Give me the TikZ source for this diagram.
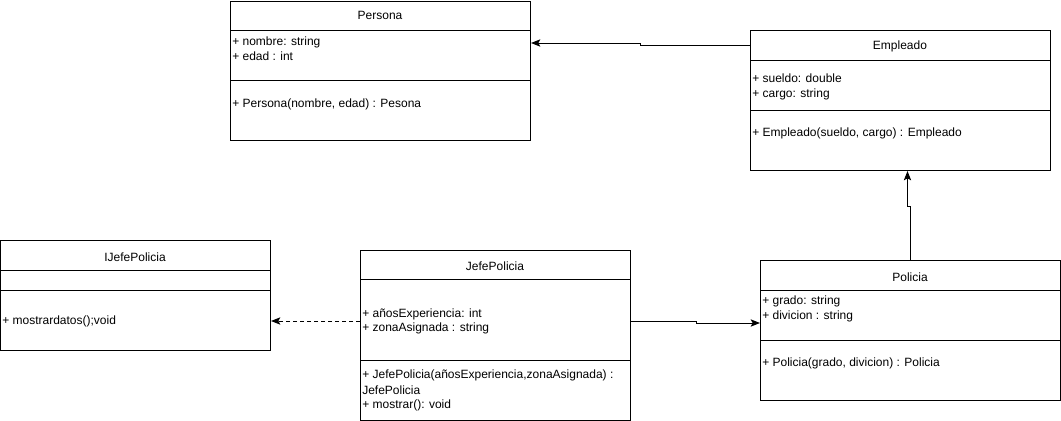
\documentclass[tikz,border=0pt]{standalone}
\usepackage{fontspec}
\setmainfont{Liberation Sans}
\usetikzlibrary{arrows.meta}
\begin{document}
\begin{tikzpicture}[x=0.75pt,y=-0.75pt,
 box/.style={draw,line width=0.75pt,inner sep=0,anchor=north west},
 sep/.style={line width=0.75pt},
 txt/.style={anchor=west,inner sep=0,font=\fontsize{9}{11}\selectfont},
 ttl/.style={inner sep=0,font=\fontsize{9}{11}\selectfont},
 arr/.style={line width=0.75pt,-{Stealth[length=7pt,width=5.5pt,inset=1.5pt]}}]
\useasboundingbox (0,0) rectangle (1061,421);
% Persona
\node[box,minimum width=225pt,minimum height=104.25pt] (persona) at (230,1) {};
\draw[sep] (230,30) -- (530,30);
\draw[sep] (230,80) -- (530,80);
\node[ttl] (personaT) at (380,15) {Persona};
\node[txt] (personaA1) at (232,42) {+ nombre: string};
\node[txt] (personaA2) at (232,56) {+ edad : int};
\node[txt] (personaM1) at (232,104) {+ Persona(nombre, edad) : Pesona};
% Empleado
\node[box,minimum width=225pt,minimum height=105pt] (empleado) at (750,30) {};
\draw[sep] (750,60) -- (1050,60);
\draw[sep] (750,110) -- (1050,110);
\node[ttl] (empleadoT) at (900,46) {Empleado};
\node[txt] (empleadoA1) at (752,78) {+ sueldo: double};
\node[txt] (empleadoA2) at (752,94) {+ cargo: string};
\node[txt] (empleadoM1) at (752,133) {+ Empleado(sueldo, cargo) : Empleado};
% IJefePolicia
\node[box,minimum width=202.5pt,minimum height=82.5pt] (ijefe) at (0,240) {};
\draw[sep] (0,270) -- (270,270);
\draw[sep] (0,290) -- (270,290);
\node[ttl] (ijefeT) at (135,257) {IJefePolicia};
\node[txt] (ijefeM1) at (2,321) {+ mostrardatos();void};
% JefePolicia
\node[box,minimum width=202.5pt,minimum height=127.5pt] (jefe) at (360,250) {};
\draw[sep] (360,279) -- (630,279);
\draw[sep] (360,360) -- (630,360);
\node[ttl] (jefeT) at (495,266) {JefePolicia};
\node[txt] (jefeA1) at (362,314) {+ añosExperiencia: int};
\node[txt] (jefeA2) at (362,328) {+ zonaAsignada : string};
\node[txt] (jefeM1) at (362,375) {+ JefePolicia(añosExperiencia,zonaAsignada) :};
\node[txt] (jefeM2) at (362,390) {JefePolicia};
\node[txt] (jefeM3) at (362,405) {+ mostrar(): void};
% Policia
\node[box,minimum width=225pt,minimum height=105pt] (policia) at (760,260) {};
\draw[sep] (760,290) -- (1060,290);
\draw[sep] (760,340) -- (1060,340);
\node[ttl] (policiaT) at (910,277) {Policia};
\node[txt] (policiaA1) at (762,301) {+ grado: string};
\node[txt] (policiaA2) at (762,316) {+ divicion : string};
\node[txt] (policiaM1) at (762,363) {+ Policia(grado, divicion) : Policia};
% connectors
\draw[arr] ([yshift=-11.25pt]empleado.north west) -- ++(-110,0) -- ++(0,-2) -- ([yshift=-31.5pt]persona.north east);
\draw[arr] (policia.north) -- ++(0,-54) -- ++(-3,0) -- ([xshift=5.25pt]empleado.south);
\draw[arr,dashed,dash pattern=on 3pt off 2.25pt] ([yshift=-53.25pt]jefe.north west) -- ([yshift=-60.75pt]ijefe.north east);
\draw[arr] ([yshift=-53.25pt]jefe.north east) -- ++(65,0) -- ++(0,2) -- ([yshift=-47.25pt]policia.north west);
\end{tikzpicture}
\end{document}
